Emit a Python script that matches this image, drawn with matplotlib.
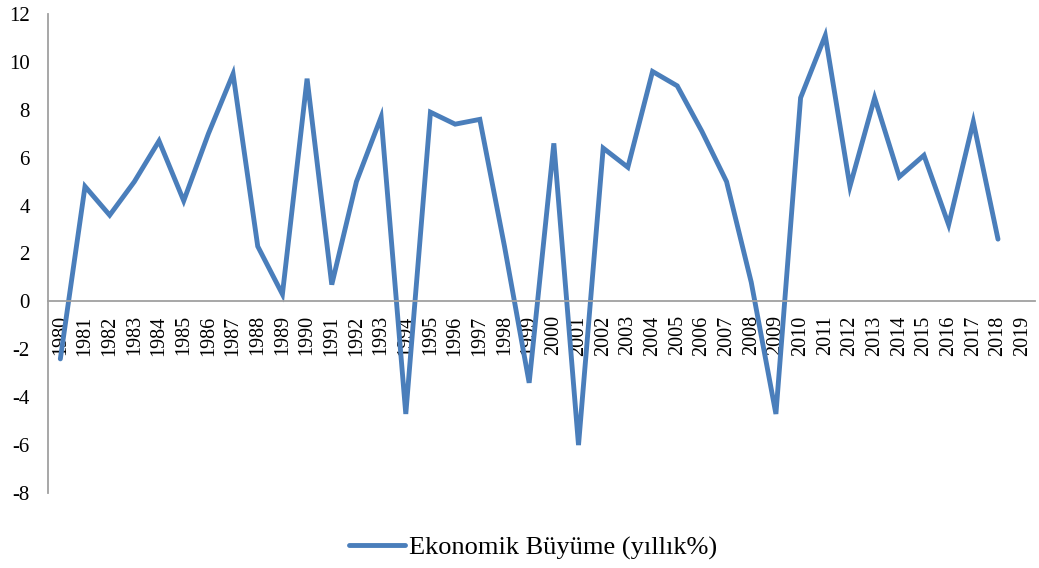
import matplotlib
matplotlib.use("Agg")
import matplotlib.pyplot as plt
from matplotlib.lines import Line2D

years = [str(y) for y in range(1980, 2020)]
growth = [-2.4, 4.8, 3.6, 5.0, 6.7, 4.2, 7.0, 9.5, 2.3, 0.3,
          9.3, 0.7, 5.0, 7.7, -4.7, 7.9, 7.4, 7.6, 2.3, -3.4,
          6.6, -6.0, 6.4, 5.6, 9.6, 9.0, 7.1, 5.0, 0.8, -4.7,
          8.5, 11.1, 4.8, 8.5, 5.2, 6.1, 3.2, 7.5, 2.6]
yticks = [-8, -6, -4, -2, 0, 2, 4, 6, 8, 10, 12]
series_name = "Ekonomik Büyüme (yıllık%)"

plt.rcParams['font.family'] = ['Liberation Serif', 'DejaVu Serif']

W, H = 1039, 568
fig = plt.figure(figsize=(W / 100, H / 100), dpi=100)
ax = fig.add_axes([48 / W, 1 - 493 / H, (1035 - 48) / W, (493 - 14) / H])

for s in ['top', 'right']:
    ax.spines[s].set_visible(False)
ax.spines['bottom'].set_position(('data', 0))
ax.spines['bottom'].set_color('#a0a0a0')
ax.spines['left'].set_color('#a0a0a0')
ax.spines['bottom'].set_linewidth(1.3)
ax.spines['left'].set_linewidth(1.3)

x = list(range(len(growth)))
ax.plot(x, growth, color='#4a7ebb', linewidth=3.5, solid_capstyle='round',
        solid_joinstyle='miter')

ax.set_xlim(-0.5, len(years) - 0.5)
ax.set_ylim(-8, 12)
ax.set_yticks(yticks)
ax.set_yticklabels([str(v) for v in yticks], fontsize=15)
ax.set_xticks(range(len(years)))
ax.set_xticklabels(years, rotation=90, fontsize=14.5, va='top', ha='center')

ax.tick_params(axis='both', length=0)
ax.tick_params(axis='y', pad=13)
ax.tick_params(axis='x', pad=10)

handle = Line2D([], [], color='#4a7ebb', linewidth=3.5, solid_capstyle='round')
fig.legend([handle], [series_name], loc='center', bbox_to_anchor=(0.513, 1 - 548 / H),
           frameon=False, fontsize=19, handlelength=2.1, handletextpad=0.15)

fig.savefig('out.png', dpi=100)
